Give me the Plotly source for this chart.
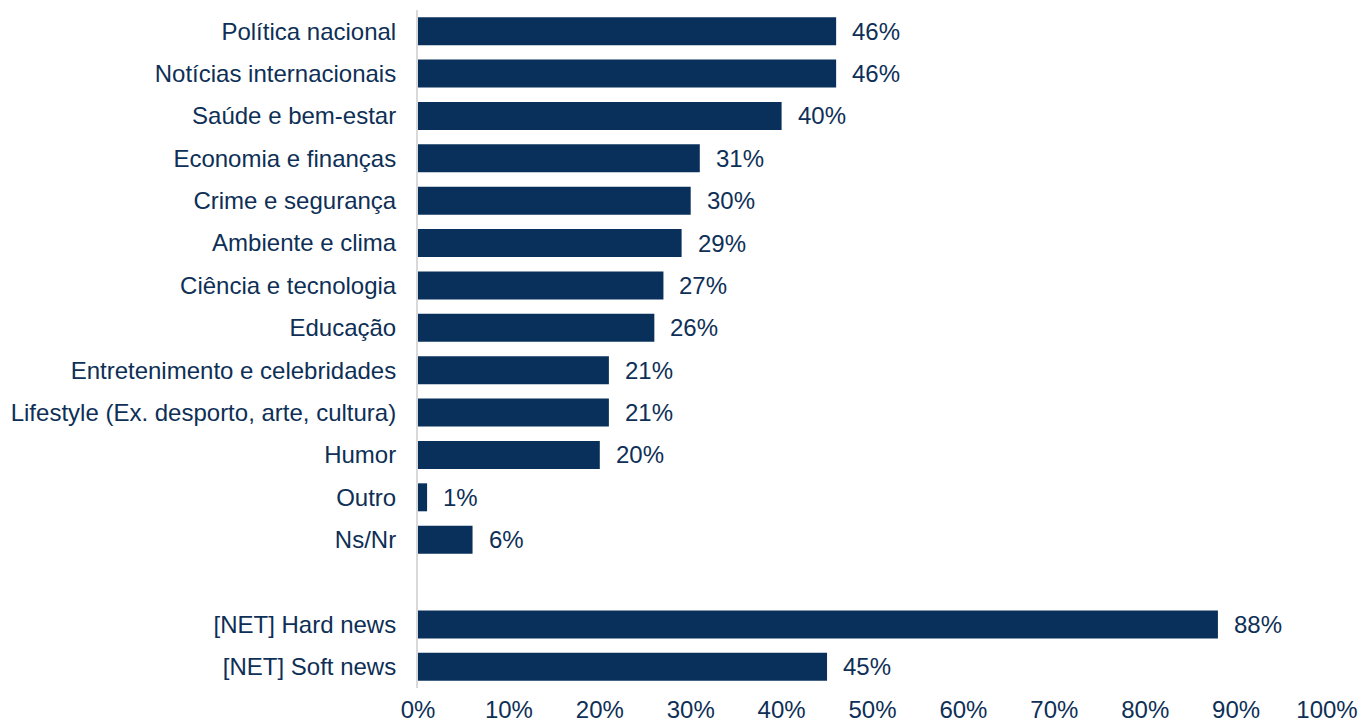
import plotly.graph_objects as go

categories = [
    "Política nacional",
    "Notícias internacionais",
    "Saúde e bem-estar",
    "Economia e finanças",
    "Crime e segurança",
    "Ambiente e clima",
    "Ciência e tecnologia",
    "Educação",
    "Entretenimento e celebridades",
    "Lifestyle (Ex. desporto, arte, cultura)",
    "Humor",
    "Outro",
    "Ns/Nr",
    " ",
    "[NET] Hard news",
    "[NET] Soft news",
]
values = [46, 46, 40, 31, 30, 29, 27, 26, 21, 21, 20, 1, 6, None, 88, 45]

BAR = "#08305A"
TEXT = "#0E2F56"
FONT = "Liberation Sans, Arial, sans-serif"
SIZE = 24

x_vals = [v / 100 if v is not None else None for v in values]

fig = go.Figure(
    go.Bar(
        y=categories,
        x=x_vals,
        orientation="h",
        marker=dict(color=BAR, line=dict(width=0)),
        hoverinfo="skip",
    )
)

# value labels to the right of each bar
for cat, v in zip(categories, values):
    if v is None:
        continue
    fig.add_annotation(
        x=v / 100, y=cat, text=f"{v}%", showarrow=False,
        xanchor="left", yanchor="middle", xshift=14,
        font=dict(family=FONT, size=SIZE, color=TEXT),
    )

fig.update_layout(
    width=1361, height=726,
    margin=dict(l=418, r=34, t=10, b=38),
    paper_bgcolor="white", plot_bgcolor="white",
    bargap=0.34,
    showlegend=False,
    font=dict(family=FONT, size=SIZE, color=TEXT),
)
fig.update_xaxes(
    range=[0, 1], dtick=0.1, tick0=0, tickformat=".0%",
    showgrid=False, zeroline=False, showline=False, ticks="",
    ticklabelstandoff=5, automargin=False, fixedrange=True,
)
fig.update_yaxes(
    type="category", categoryorder="array", categoryarray=categories,
    autorange="reversed",
    showgrid=False, zeroline=False, showline=True,
    linecolor="#D9D9D9", linewidth=2, ticks="",
    ticklabelstandoff=15, automargin=False, fixedrange=True,
)

fig.write_html("out.html")
